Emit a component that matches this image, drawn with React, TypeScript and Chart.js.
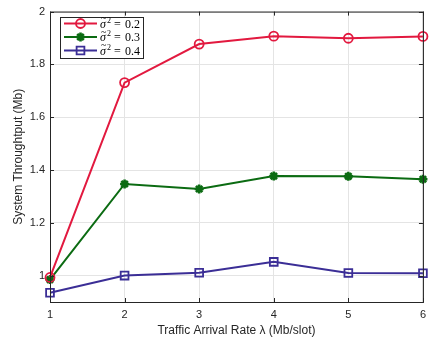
import React, { useEffect, useRef } from "react";
import { Chart, registerables } from "chart.js";

Chart.register(...registerables);

// Traffic arrival rate (Mb/slot)
const arrivalRates = [1, 2, 3, 4, 5, 6];
// System throughput (Mb) for each noise variance
const throughputVar02 = [0.993, 1.731, 1.877, 1.907, 1.899, 1.906];
const throughputVar03 = [0.985, 1.347, 1.328, 1.377, 1.376, 1.365];
const throughputVar04 = [0.935, 1.0, 1.011, 1.052, 1.01, 1.009];

const varianceLabels = ["0.2", "0.3", "0.4"];
const xTickValues = [1, 2, 3, 4, 5, 6];
const yTickValues = [1, 1.2, 1.4, 1.6, 1.8, 2];

const AXIS_COLOR = "#262626";
const GRID_COLOR = "#e4e4e4";
const SANS = "'Liberation Sans', Arial, Helvetica, sans-serif";
const SERIF = "'Liberation Serif', 'DejaVu Serif', serif";

const seriesStyles = [
  { color: "#e2193f", pointStyle: "circle", radius: 4.5, pointBorderWidth: 1.8 },
  { color: "#0b6b12", pointStyle: "star", radius: 4.5, pointBorderWidth: 2.6 },
  { color: "#3b2e96", pointStyle: "rect", radius: 5.5, pointBorderWidth: 1.8 },
];

const seriesValues = [throughputVar02, throughputVar03, throughputVar04];

function drawMarker(ctx: CanvasRenderingContext2D, style: string, r: number, x: number, y: number) {
  ctx.beginPath();
  if (style === "circle") {
    ctx.arc(x, y, r, 0, Math.PI * 2);
  } else if (style === "rect") {
    const h = r * Math.SQRT1_2;
    ctx.rect(x - h, y - h, 2 * h, 2 * h);
  } else {
    // asterisk: plus and diagonal cross
    const d = r * Math.SQRT1_2;
    ctx.moveTo(x - r, y);
    ctx.lineTo(x + r, y);
    ctx.moveTo(x, y - r);
    ctx.lineTo(x, y + r);
    ctx.moveTo(x - d, y - d);
    ctx.lineTo(x + d, y + d);
    ctx.moveTo(x - d, y + d);
    ctx.lineTo(x + d, y - d);
  }
  ctx.stroke();
}

// Axes box with inward tick marks and a boxed legend in the upper left.
const framePlugin = {
  id: "axesFrame",
  afterDraw(chart: any) {
    const { ctx, chartArea, scales } = chart;
    const { left, right, top, bottom } = chartArea;
    ctx.save();
    ctx.strokeStyle = AXIS_COLOR;
    ctx.lineWidth = 1;
    ctx.beginPath();
    const tl = 4;
    xTickValues.forEach((v) => {
      const x = Math.round(scales.x.getPixelForValue(v)) + 0.5;
      ctx.moveTo(x, bottom);
      ctx.lineTo(x, bottom - tl);
      ctx.moveTo(x, top);
      ctx.lineTo(x, top + tl);
    });
    yTickValues.forEach((v) => {
      const y = Math.round(scales.y.getPixelForValue(v)) + 0.5;
      ctx.moveTo(left, y);
      ctx.lineTo(left + tl, y);
      ctx.moveTo(right, y);
      ctx.lineTo(right - tl, y);
    });
    ctx.stroke();
    ctx.strokeRect(left + 0.5, top + 0.5, right - left, bottom - top);

    // legend
    const lx = 60, ly = 17, lw = 83, lh = 41;
    ctx.fillStyle = "#ffffff";
    ctx.fillRect(lx, ly, lw, lh);
    ctx.strokeStyle = AXIS_COLOR;
    ctx.lineWidth = 1;
    ctx.strokeRect(lx + 0.5, ly + 0.5, lw, lh);
    const rowsY = [23.5, 37, 50.5];
    seriesStyles.forEach((s, i) => {
      const y = rowsY[i];
      ctx.strokeStyle = s.color;
      ctx.lineWidth = 2;
      ctx.beginPath();
      ctx.moveTo(64, y);
      ctx.lineTo(97, y);
      ctx.stroke();
      ctx.lineWidth = s.pointBorderWidth;
      drawMarker(ctx, s.pointStyle, s.radius, 80.5, y);

      // label:  σ̃² = value
      ctx.fillStyle = "#000000";
      ctx.textBaseline = "alphabetic";
      ctx.textAlign = "left";
      const base = y + 4;
      ctx.font = `italic 12px ${SERIF}`;
      ctx.fillText("σ", 100, base);
      ctx.font = `10px ${SERIF}`;
      ctx.fillText("~", 101, base - 6.5);
      ctx.font = `8px ${SERIF}`;
      ctx.fillText("2", 107, base - 5);
      ctx.font = `12px ${SERIF}`;
      ctx.fillText("=", 114, base);
      ctx.fillText(varianceLabels[i], 125, base);
    });
    ctx.restore();
  },
};

export default function App() {
  const canvasRef = useRef<HTMLCanvasElement | null>(null);

  useEffect(() => {
    const canvas = canvasRef.current;
    if (!canvas) return;
    const chart = new Chart(canvas, {
      type: "line",
      data: {
        datasets: seriesValues.map((vals, i) => ({
          label: `σ̃² = ${varianceLabels[i]}`,
          data: arrivalRates.map((x, j) => ({ x, y: vals[j] })),
          borderColor: seriesStyles[i].color,
          backgroundColor: "rgba(0,0,0,0)",
          borderWidth: 2,
          pointStyle: seriesStyles[i].pointStyle as any,
          pointRadius: seriesStyles[i].radius,
          pointBorderWidth: seriesStyles[i].pointBorderWidth,
          pointBorderColor: seriesStyles[i].color,
          pointBackgroundColor: "rgba(0,0,0,0)",
          tension: 0,
          clip: false as any,
        })),
      },
      options: {
        animation: false,
        responsive: false,
        maintainAspectRatio: false,
        layout: { padding: { top: 8, right: 8, left: 0, bottom: 0 } },
        plugins: { legend: { display: false }, tooltip: { enabled: false } },
        scales: {
          x: {
            type: "linear",
            min: 1,
            max: 6,
            afterBuildTicks: (scale: any) => {
              scale.ticks = xTickValues.map((value) => ({ value }));
            },
            afterFit: (scale: any) => {
              scale.height = 42;
            },
            grid: { color: GRID_COLOR, drawTicks: false },
            border: { display: false },
            ticks: {
              padding: 6,
              color: AXIS_COLOR,
              font: { family: SANS, size: 11 },
              callback: (v: any) => String(v),
              maxRotation: 0,
            },
            title: {
              display: true,
              text: "Traffic Arrival Rate λ (Mb/slot)",
              color: AXIS_COLOR,
              font: { family: SANS, size: 12 },
              padding: { top: 0, bottom: 6 },
            },
          },
          y: {
            type: "linear",
            min: 0.9,
            max: 2,
            afterBuildTicks: (scale: any) => {
              scale.ticks = yTickValues.map((value) => ({ value }));
            },
            afterFit: (scale: any) => {
              scale.width = 50;
            },
            grid: { color: GRID_COLOR, drawTicks: false },
            border: { display: false },
            ticks: {
              padding: 5,
              color: AXIS_COLOR,
              font: { family: SANS, size: 11 },
              callback: (v: any) => String(Math.round(v * 10) / 10),
            },
            title: {
              display: true,
              text: "System Throughtput (Mb)",
              color: AXIS_COLOR,
              font: { family: SANS, size: 12 },
              padding: { top: 11, bottom: 0 },
            },
          },
        },
      },
      plugins: [framePlugin],
    });
    return () => chart.destroy();
  }, []);

  return (
    <div style={{ position: "absolute", left: 0, top: 0, width: 432, height: 344, background: "#ffffff" }}>
      <canvas ref={canvasRef} width={432} height={344} style={{ display: "block" }} />
    </div>
  );
}
